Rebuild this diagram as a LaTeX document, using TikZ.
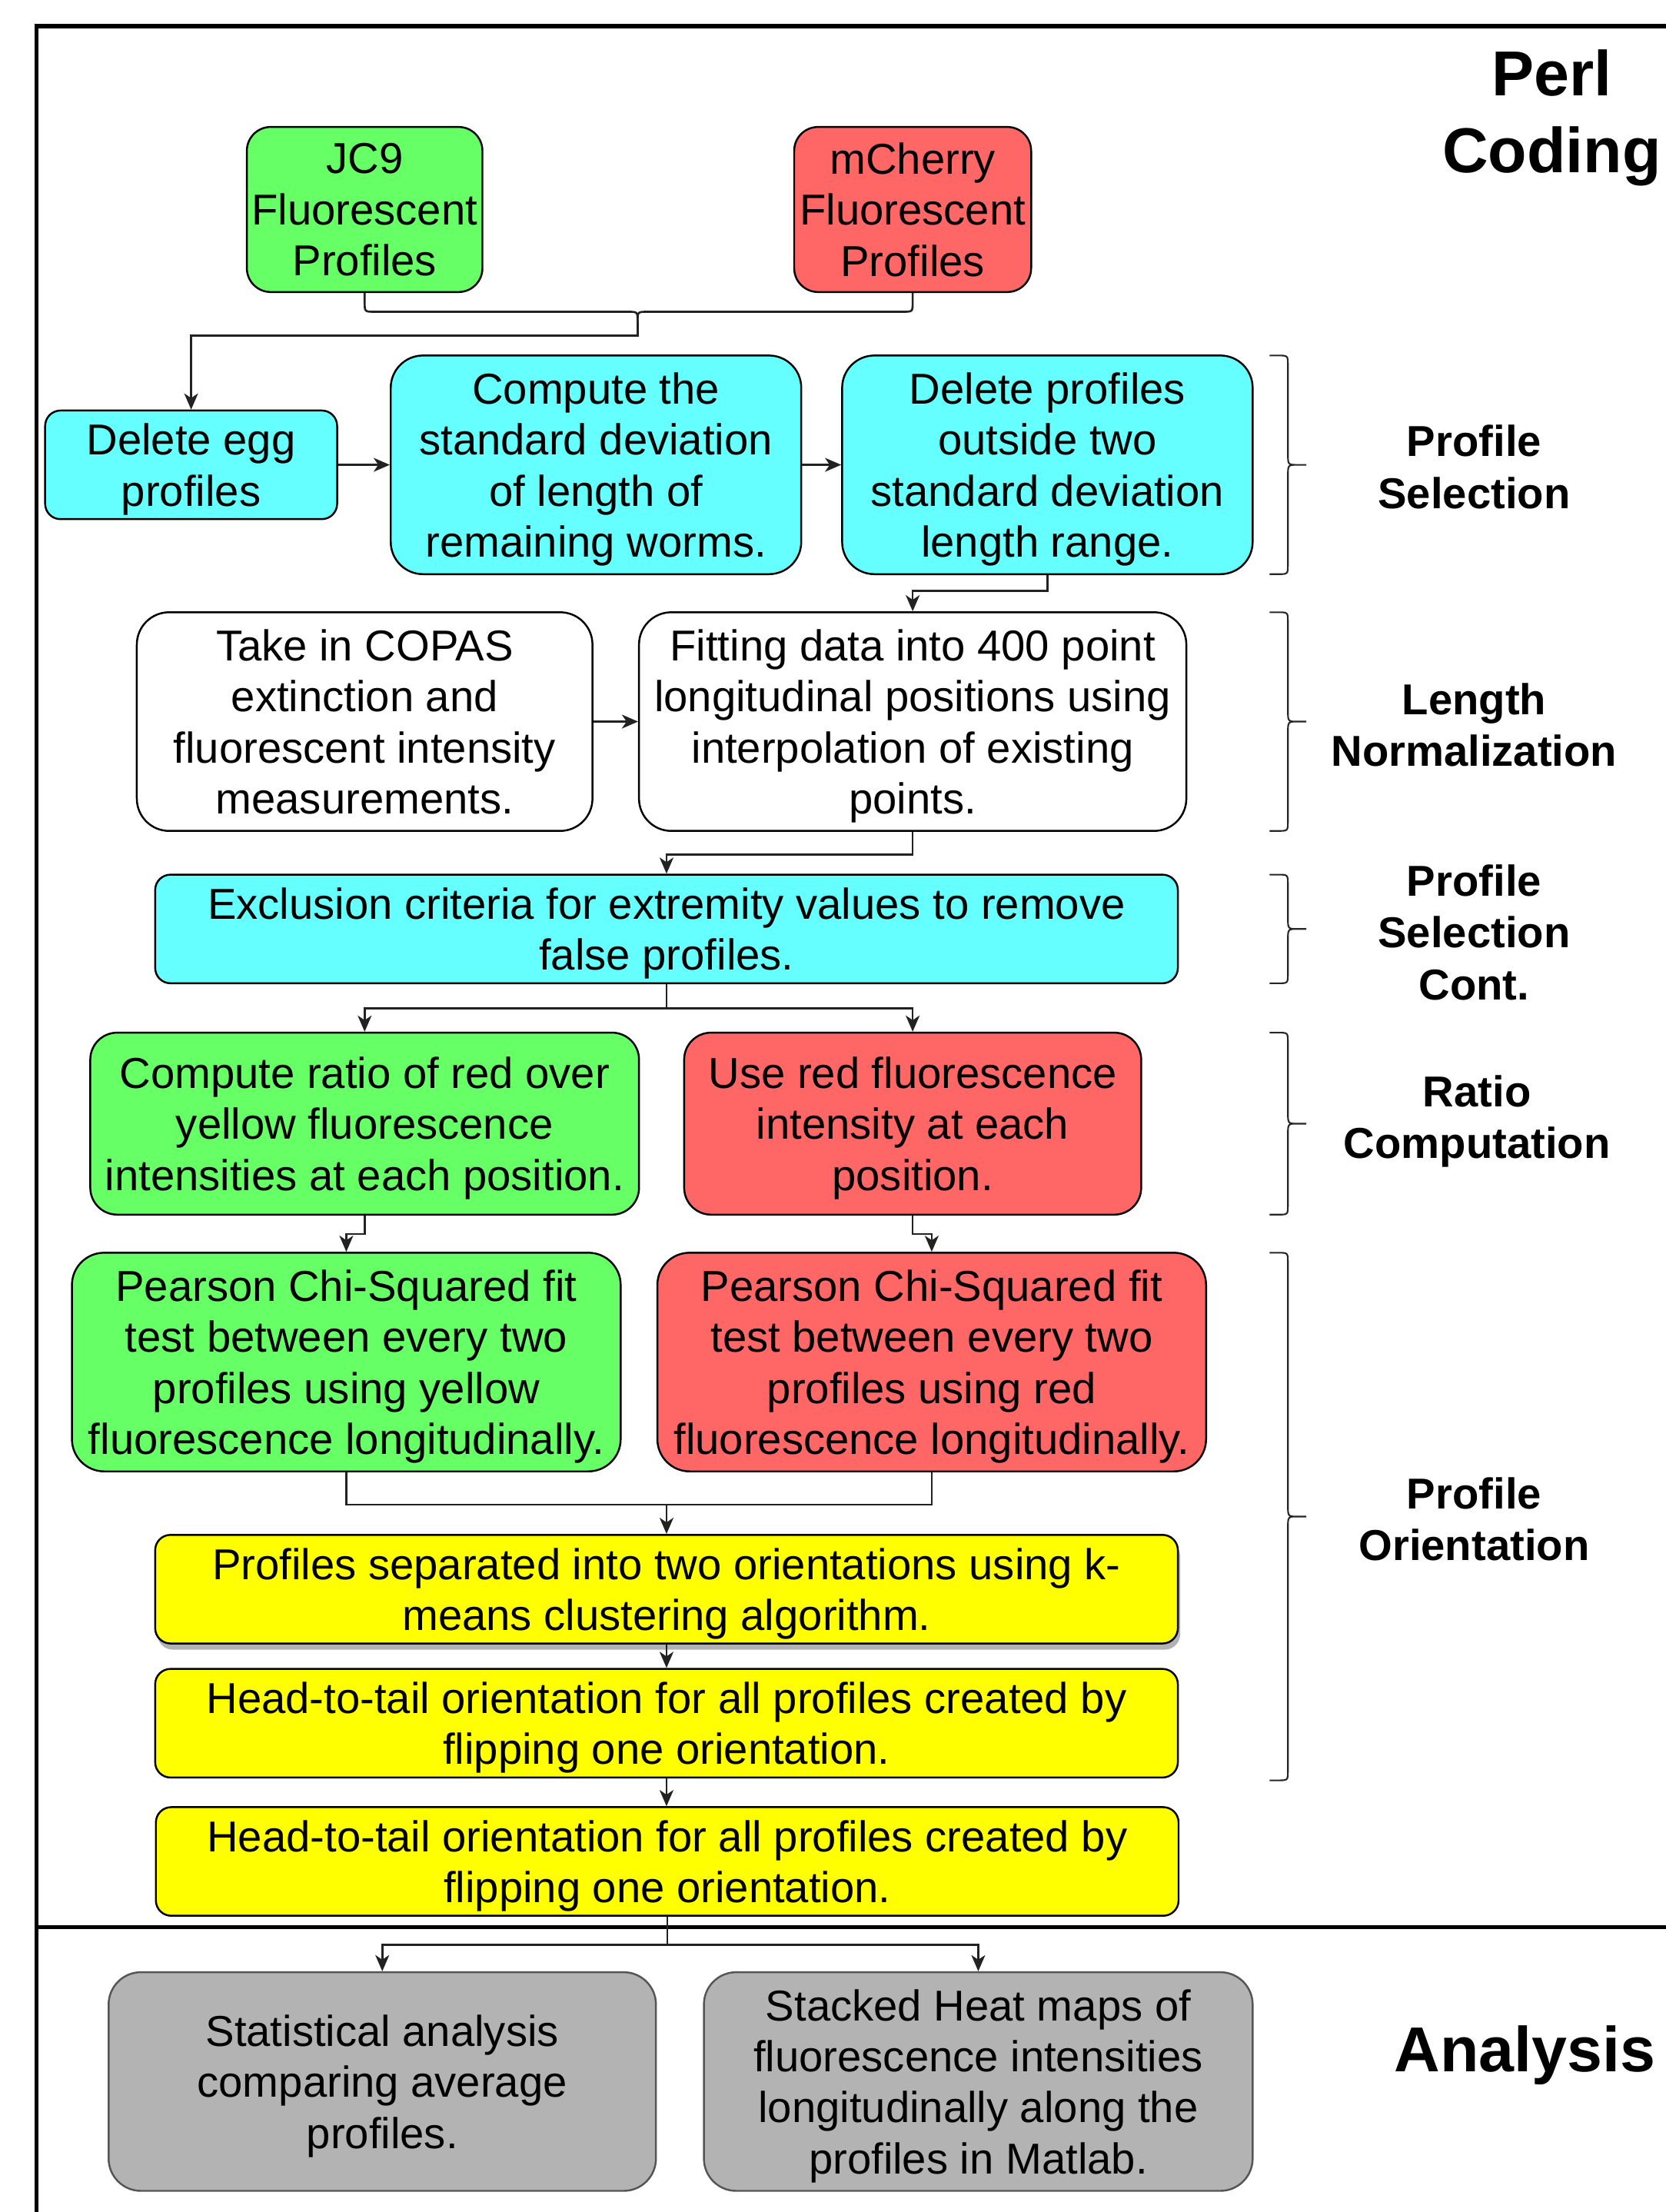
\documentclass[tikz,border=0pt]{standalone}
\usepackage{fontspec}
\setmainfont{Liberation Sans}
\usetikzlibrary{arrows.meta,shadows}
\definecolor{cgreen}{HTML}{66FF66}
\definecolor{cred}{HTML}{FF6666}
\definecolor{ccyan}{HTML}{66FFFF}
\definecolor{cyellow}{HTML}{FFFF00}
\definecolor{cgray}{HTML}{B3B3B3}
\definecolor{cgrayb}{HTML}{555555}
\definecolor{cline}{HTML}{222222}
\newcommand\sidebrace[2]{%
  \draw[bracestyle] (900,#1) -- (906,#1) .. controls (913,#1) .. (913,{#1+7})
    -- (913,{(#1+#2)/2-8}) .. controls (913,{(#1+#2)/2}) .. (920,{(#1+#2)/2}) -- (926,{(#1+#2)/2})
    -- (920,{(#1+#2)/2}) .. controls (913,{(#1+#2)/2}) .. (913,{(#1+#2)/2+8})
    -- (913,{#2-7}) .. controls (913,#2) .. (906,#2) -- (900,#2);}
\begin{document}
\begin{tikzpicture}[x=0.1835mm,y=-0.1835mm,
  box/.style={draw=black, line width=0.7pt, align=center, inner sep=0pt,
    font=\fontsize{16}{18.9}\selectfont, text depth=-2.6pt},
  wh/.style 2 args={minimum width=#1*0.1835mm, minimum height=#2*0.1835mm},
  conn/.style={draw=cline, line width=0.75pt},
  arr/.style={conn, -{Stealth[length=2.1mm,width=1.8mm,inset=0.6mm]}},
  bracestyle/.style={draw=black!85, line width=0.6pt},
  lbl/.style={align=center, font=\bfseries\fontsize{16}{19.2}\selectfont},
  biglbl/.style={align=center, font=\bfseries\fontsize{23.5}{28.6}\selectfont},
  frame/.style={line width=1.5pt, line cap=rect}
]
\useasboundingbox (0,0) rectangle (1181,1568);

% frame
\draw[frame] (1185,18.6) -- (25.8,18.6) -- (25.8,1572);
\draw[frame] (25.8,1366) -- (1185,1366);

% nodes
\node[box, fill=cgreen, wh={167}{117}, rounded corners=3.1mm] (jc9) at (258.5,148.5) {JC9\\Fluorescent\\Profiles};
\node[box, fill=cred, wh={168}{117}, rounded corners=3.1mm] (mch) at (647,148.5) {mCherry\\Fluorescent\\Profiles};
\node[box, fill=ccyan, wh={207}{77}, rounded corners=2mm] (egg) at (135.5,329.5) {Delete egg\\profiles};
\node[box, fill=ccyan, wh={291}{155}, rounded corners=4.2mm] (comp) at (422.5,329.5) {Compute the\\standard deviation\\of length of\\remaining worms.};
\node[box, fill=ccyan, wh={291}{155}, rounded corners=4.2mm] (delp) at (742.5,329.5) {Delete profiles\\outside two\\standard deviation\\length range.};
\node[box, fill=white, wh={323}{155}, rounded corners=4.2mm] (copas) at (258.5,511.5) {Take in COPAS\\extinction and\\fluorescent intensity\\measurements.};
\node[box, fill=white, wh={388}{155}, rounded corners=4.2mm] (fit) at (647,511.5) {Fitting data into 400 point\\longitudinal positions using\\interpolation of existing\\points.};
\node[box, fill=ccyan, wh={725}{77}, rounded corners=2mm] (excl) at (472.5,658.5) {Exclusion criteria for extremity values to remove\\false profiles.};
\node[box, fill=cgreen, wh={389}{129}, rounded corners=3.5mm] (ratio) at (258.5,796.5) {Compute ratio of red over\\yellow fluorescence\\intensities at each position.};
\node[box, fill=cred, wh={324}{129}, rounded corners=3.5mm] (usered) at (647,796.5) {Use red fluorescence\\intensity at each\\position.};
\node[box, fill=cgreen, wh={389}{155}, rounded corners=4.2mm] (py) at (245.5,965.5) {Pearson Chi-Squared fit\\test between every two\\profiles using yellow\\fluorescence longitudinally.};
\node[box, fill=cred, wh={389}{155}, rounded corners=4.2mm] (pr) at (660.5,965.5) {Pearson Chi-Squared fit\\test between every two\\profiles using red\\fluorescence longitudinally.};
\node[box, fill=cyellow, wh={725}{77}, rounded corners=2mm,
  drop shadow={shadow xshift=0.3mm, shadow yshift=-0.8mm, fill=black!30, opacity=1}] (sep) at (472.5,1126.5) {Profiles separated into two orientations using k-\\means clustering algorithm.};
\node[box, fill=cyellow, wh={725}{77}, rounded corners=2mm] (h1) at (472.5,1221.5) {Head-to-tail orientation for all profiles created by\\flipping one orientation.};
\node[box, fill=cyellow, wh={725}{77}, rounded corners=2mm] (h2) at (473,1319.5) {Head-to-tail orientation for all profiles created by\\flipping one orientation.};
\node[box, fill=cgray, draw=cgrayb, wh={388}{155}, rounded corners=4.2mm] (stat) at (271,1475.5) {Statistical analysis\\comparing average\\profiles.};
\node[box, fill=cgray, draw=cgrayb, wh={389}{155}, rounded corners=4.2mm] (heat) at (693.5,1475.5) {Stacked Heat maps of\\fluorescence intensities\\longitudinally along the\\profiles in Matlab.};

% right-side labels
\node[biglbl] (perl) at (1100,83.5) {Perl\\Coding};
\node[lbl] (l1) at (1045,331) {Profile\\Selection};
\node[lbl] (l2) at (1045,514) {Length\\Normalization};
\node[lbl] (l3) at (1045,661) {Profile\\Selection\\Cont.};
\node[lbl] (l4) at (1047,795) {Ratio\\Computation};
\node[lbl] (l5) at (1045,1077) {Profile\\Orientation};
\node[biglbl] (ana) at (1081,1457) {Analysis};

% braces
\sidebrace{252}{407}
\sidebrace{434}{589}
\sidebrace{620}{697}
\sidebrace{732}{861}
\sidebrace{888}{1262}

% connectors
\coordinate (jtip) at (452,228);
\draw[conn] (jc9.south) -- (258.5,214) .. controls (258.5,221) .. (265.5,221) -- (445,221) .. controls (452,221) .. (jtip);
\draw[conn] (mch.south) -- (647,214) .. controls (647,221) .. (640,221) -- (459,221) .. controls (452,221) .. (jtip);
\draw[arr] (jtip) -- (452,238) -| (egg.north);
\draw[arr] (egg) -- (comp);
\draw[arr] (comp) -- (delp);
\draw[arr] (delp.south) -- ++(0,11) -| (fit.north);
\draw[arr] (copas) -- (fit);
\draw[arr] (fit.south) -- ++(0,16) -| (excl.north);
\draw[arr] (excl.south) -- ++(0,17) -| (ratio.north);
\draw[arr] (excl.south) -- ++(0,17) -| (usered.north);
\draw[arr] (ratio.south) -- ++(0,13) -| (py.north);
\draw[arr] (usered.south) -- ++(0,13) -| (pr.north);
\draw[conn] (py.south) -- ++(0,23) coordinate (j2) -| (pr.south);
\draw[arr] (sep.north |- j2) -- (sep.north);
\draw[arr] (sep.south) -- (h1.north);
\draw[arr] (h1.south) -- (h1.south |- h2.north);
\draw[arr] (h2.south) -- ++(0,20) -| (stat.north);
\draw[arr] (h2.south) -- ++(0,20) -| (heat.north);
\end{tikzpicture}
\end{document}
